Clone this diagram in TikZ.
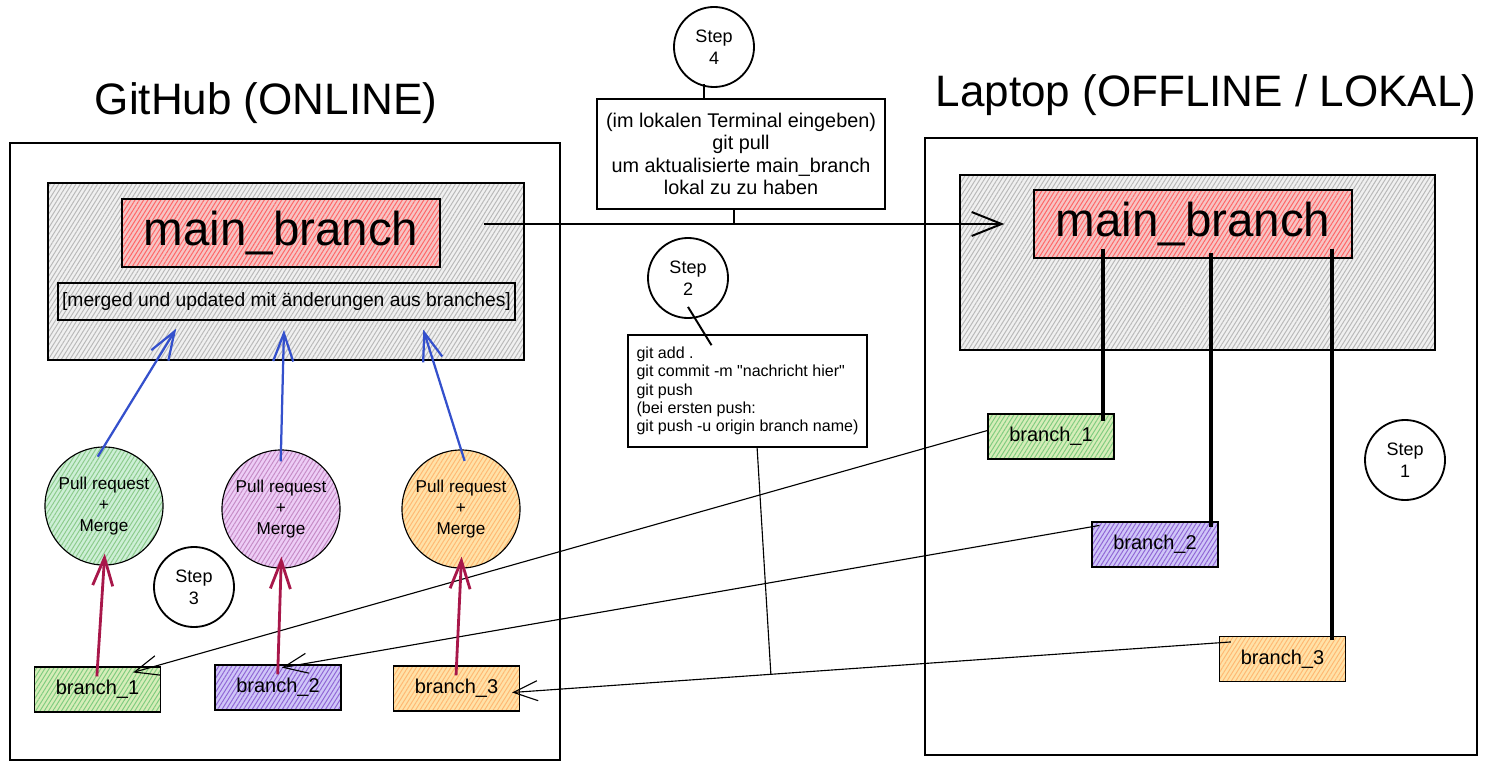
\documentclass[tikz,border=0pt]{standalone}
\usepackage{fontspec}
\setmainfont{Liberation Sans}
\usetikzlibrary{arrows.meta,patterns.meta,calc}

\definecolor{pinkfill}{HTML}{F6C4C4}
\definecolor{mintfill}{HTML}{CDEFD6}
\definecolor{limefill}{HTML}{D6EDB8}
\definecolor{lilacfill}{HTML}{EDCDF6}
\definecolor{violetfill}{HTML}{CFC6F8}
\definecolor{orangefill}{HTML}{FFE2A8}
\definecolor{arrowblue}{HTML}{3450CC}
\definecolor{arrowred}{HTML}{A8174A}

\begin{document}
\begin{tikzpicture}[x=0.025cm, y=-0.025cm,
    frame/.style={draw, line width=0.9pt},
    tint/.style={preaction={fill=#1}},
    hatch/.style={pattern={Lines[angle=58,distance=2.6pt,line width=0.7pt]}, pattern color=#1},
    graybox/.style={draw, line width=0.9pt, tint=gray!12, hatch=gray!55},
    title/.style={font=\fontsize{31.3}{36}\selectfont},
    mainbox/.style={rectangle, draw, line width=0.9pt, tint=pinkfill, hatch=red!60,
        minimum width=7.95cm, minimum height=1.7cm, font=\fontsize{33.8}{40}\selectfont},
    branchbox/.style={rectangle, draw, line width=0.8pt, minimum width=3.15cm,
        minimum height=1.125cm, font=\fontsize{14.2}{17}\selectfont},
    prcircle/.style={circle, draw, line width=0.8pt, minimum size=2.95cm, inner sep=0pt,
        align=center, font=\fontsize{12.2}{15}\selectfont},
    stepcircle/.style={circle, draw, line width=1.3pt, minimum size=2cm, inner sep=0pt,
        align=center, font=\fontsize{12.8}{15.5}\selectfont},
    textbox/.style={rectangle, draw, line width=1.1pt},
    mergearrow/.style={draw=arrowred, line width=2pt, -{Straight Barb[length=7mm, width=5mm]},
        shorten <=-0.25cm, shorten >=-0.3cm},
    prarrow/.style={draw=arrowblue, line width=1.6pt, -{Straight Barb[length=7mm, width=5mm]},
        shorten <=-0.3cm, shorten >=0.22cm},
    pusharrow/.style={draw, line width=0.8pt, -{Straight Barb[length=6mm, width=5mm]}},
    mainline/.style={draw, line width=2.8pt}
]
    \useasboundingbox (0,0) rectangle (1490,768);

    % 見出しと枠
    \node[title] (ghtitle) at (266,103) {GitHub (ONLINE)};
    \node[title] (lptitle) at (1206,95) {Laptop (OFFLINE / LOKAL)};

    \draw[frame] (10,143) rectangle (560,760);
    \draw[frame] (925,138) rectangle (1477,755);
    \draw[graybox] (48,183) rectangle (524,360);
    \draw[graybox] (960,175) rectangle (1435,350);

    \node[mainbox] (lmain) at (281,233) {main\_branch};
    \node[mainbox] (rmain) at (1193,224) {main\_branch};
    \node[rectangle, draw, line width=1.6pt, minimum width=11.425cm, minimum height=0.925cm,
        inner sep=0pt, font=\fontsize{13.7}{16}\selectfont] (merged) at (286.5,301.5)
        {[merged und updated mit änderungen aus branches]};

    \node[prcircle, tint=mintfill, hatch=green!55!black!45] (pr1) at (104,506) {Pull request\\+\\Merge};
    \node[prcircle, tint=lilacfill, hatch=violet!45] (pr2) at (281,509) {Pull request\\+\\Merge};
    \node[prcircle, tint=orangefill, hatch=orange!55] (pr3) at (461,509) {Pull request\\+\\Merge};

    \node[branchbox, tint=limefill, hatch=green!60!black!50] (lb1) at (97.5,689.5) {branch\_1};
    \node[branchbox, tint=violetfill, hatch=blue!45!violet!60] (lb2) at (278,687.5) {branch\_2};
    \node[branchbox, tint=orangefill, hatch=orange!55] (lb3) at (456.5,688.5) {branch\_3};

    \node[branchbox, tint=limefill, hatch=green!60!black!50] (rb1) at (1051,436.5) {branch\_1};
    \node[branchbox, tint=violetfill, hatch=blue!45!violet!60] (rb2) at (1155,544.5) {branch\_2};
    \node[branchbox, tint=orangefill, hatch=orange!55] (rb3) at (1282.5,659) {branch\_3};

    \node[stepcircle] (s1) at (1405,460) {Step\\1};
    \node[stepcircle] (s2) at (688,278) {Step\\2};
    \node[stepcircle] (s3) at (194,587) {Step\\3};
    \node[stepcircle] (s4) at (714,47) {Step\\4};

    \node[textbox, minimum width=7.2cm, minimum height=2.75cm, align=center,
        font=\fontsize{14.1}{16}\selectfont] (s4box) at (741,154)
        {(im lokalen Terminal eingeben)\\git pull\\um aktualisierte main\_branch\\lokal zu zu haben};
    \node[textbox, minimum width=5.975cm, minimum height=2.8cm, align=left,
        font=\fontsize{11.4}{13.1}\selectfont] (s2box) at (747.5,391)
        {git add .\\git commit -m \textquotedbl nachricht hier\textquotedbl\\git push\\(bei ersten push:\\git push -u origin branch name)};

    % Verbindungen
    \draw[line width=1.4pt, -{Straight Barb[length=7.5mm, width=6mm]}, shorten <=1.075cm, shorten >=0.725cm]
        (lmain.east |- rmain.west) -- (rmain.west);
    \draw[line width=1.4pt] ([xshift=-2.5mm,yshift=1mm]s4.south) -- ([xshift=-2.5mm]s4.south |- s4box.north);
    \draw[line width=1.4pt] ([xshift=-1.75mm]s4box.south) -- ([xshift=-1.75mm]s4box.south |- rmain.west);

    \draw[mainline] ([xshift=-3mm,yshift=2.5mm]rb1.north east |- rmain.south) -- ([xshift=-3mm,yshift=-2mm]rb1.north east);
    \draw[mainline] ([xshift=-2mm,yshift=1.5mm]rb2.north east |- rmain.south) -- ([xshift=-2mm,yshift=-1.5mm]rb2.north east);
    \draw[mainline] ([xshift=-3.5mm,yshift=2.5mm]rb3.north east |- rmain.south) -- ([xshift=-3.5mm,yshift=-1mm]rb3.north east);

    \draw[pusharrow] ([yshift=1.5mm]rb1.west) -- ([xshift=-7mm,yshift=-1.5mm]lb1.north east);
    \draw[pusharrow] ([xshift=2mm,yshift=-1mm]rb2.north west) -- ([xshift=1mm,yshift=-0.8mm]lb2.north);
    \draw[pusharrow] ([xshift=3mm,yshift=-1.5mm]rb3.north west) -- coordinate[pos=0.64] (join) ([xshift=-2mm,yshift=-1mm]lb3.east);

    \draw[line width=1.4pt] ([yshift=3mm]s2.south) -- ([xshift=-9mm,yshift=-2.75mm]s2box.north);
    \draw[line width=0.8pt] ([xshift=2.4mm]s2box.south) -- (join);

    \draw[mergearrow] (lb1.north) -- (pr1.south);
    \draw[mergearrow] (lb2.north) -- (pr2.south);
    \draw[mergearrow] (lb3.north) -- (pr3.south);

    \draw[prarrow] (pr1.north) -- ($(merged.south west)!0.27!(merged.south east)$);
    \draw[prarrow] (pr2.north) -- ($(merged.south west)!0.495!(merged.south east)$);
    \draw[prarrow] (pr3.north) -- ($(merged.south west)!0.792!(merged.south east)$);

\end{tikzpicture}
\end{document}
